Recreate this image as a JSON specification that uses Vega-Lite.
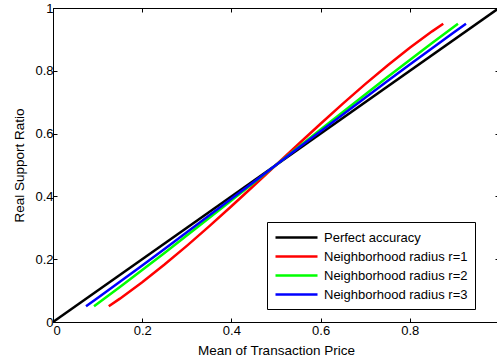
{
  "$schema": "https://vega.github.io/schema/vega-lite/v6.json",
  "autosize": {"type": "none"},
  "padding": {"left": 53, "top": 8, "right": 0, "bottom": 36},
  "width": 446,
  "height": 314,
  "background": "white",
  "config": {
    "view": {"stroke": "black", "strokeWidth": 1},
    "font": "Liberation Sans",
    "axis": {"labelFont": "Liberation Sans", "titleFont": "Liberation Sans", "labelColor": "black", "titleColor": "black", "domainColor": "black", "tickColor": "black", "grid": false, "labelFontSize": 13, "titleFontSize": 13.5, "titleFontWeight": "normal"},
    "legend": {"labelFont": "Liberation Sans"}
  },
  "data": {"values": [
    {"s": "Perfect accuracy", "x": 0, "y": 0},
    {"s": "Perfect accuracy", "x": 1, "y": 1},
    {"s": "Neighborhood radius r=1", "x": 0.125, "y": 0.05},
    {"s": "Neighborhood radius r=1", "x": 0.15, "y": 0.0744},
    {"s": "Neighborhood radius r=1", "x": 0.2, "y": 0.1268},
    {"s": "Neighborhood radius r=1", "x": 0.25, "y": 0.183},
    {"s": "Neighborhood radius r=1", "x": 0.3, "y": 0.2425},
    {"s": "Neighborhood radius r=1", "x": 0.35, "y": 0.3046},
    {"s": "Neighborhood radius r=1", "x": 0.4, "y": 0.3687},
    {"s": "Neighborhood radius r=1", "x": 0.45, "y": 0.434},
    {"s": "Neighborhood radius r=1", "x": 0.5, "y": 0.5},
    {"s": "Neighborhood radius r=1", "x": 0.55, "y": 0.566},
    {"s": "Neighborhood radius r=1", "x": 0.6, "y": 0.6313},
    {"s": "Neighborhood radius r=1", "x": 0.65, "y": 0.6954},
    {"s": "Neighborhood radius r=1", "x": 0.7, "y": 0.7575},
    {"s": "Neighborhood radius r=1", "x": 0.75, "y": 0.817},
    {"s": "Neighborhood radius r=1", "x": 0.8, "y": 0.8732},
    {"s": "Neighborhood radius r=1", "x": 0.85, "y": 0.9256},
    {"s": "Neighborhood radius r=1", "x": 0.875, "y": 0.95},
    {"s": "Neighborhood radius r=2", "x": 0.092, "y": 0.05},
    {"s": "Neighborhood radius r=2", "x": 0.15, "y": 0.1116},
    {"s": "Neighborhood radius r=2", "x": 0.2, "y": 0.1655},
    {"s": "Neighborhood radius r=2", "x": 0.25, "y": 0.2201},
    {"s": "Neighborhood radius r=2", "x": 0.3, "y": 0.2753},
    {"s": "Neighborhood radius r=2", "x": 0.35, "y": 0.3311},
    {"s": "Neighborhood radius r=2", "x": 0.4, "y": 0.3872},
    {"s": "Neighborhood radius r=2", "x": 0.45, "y": 0.4435},
    {"s": "Neighborhood radius r=2", "x": 0.5, "y": 0.5},
    {"s": "Neighborhood radius r=2", "x": 0.55, "y": 0.5565},
    {"s": "Neighborhood radius r=2", "x": 0.6, "y": 0.6128},
    {"s": "Neighborhood radius r=2", "x": 0.65, "y": 0.6689},
    {"s": "Neighborhood radius r=2", "x": 0.7, "y": 0.7247},
    {"s": "Neighborhood radius r=2", "x": 0.75, "y": 0.7799},
    {"s": "Neighborhood radius r=2", "x": 0.8, "y": 0.8345},
    {"s": "Neighborhood radius r=2", "x": 0.85, "y": 0.8884},
    {"s": "Neighborhood radius r=2", "x": 0.908, "y": 0.95},
    {"s": "Neighborhood radius r=3", "x": 0.074, "y": 0.05},
    {"s": "Neighborhood radius r=3", "x": 0.1, "y": 0.0765},
    {"s": "Neighborhood radius r=3", "x": 0.15, "y": 0.128},
    {"s": "Neighborhood radius r=3", "x": 0.2, "y": 0.18},
    {"s": "Neighborhood radius r=3", "x": 0.25, "y": 0.2326},
    {"s": "Neighborhood radius r=3", "x": 0.3, "y": 0.2856},
    {"s": "Neighborhood radius r=3", "x": 0.35, "y": 0.3389},
    {"s": "Neighborhood radius r=3", "x": 0.4, "y": 0.3924},
    {"s": "Neighborhood radius r=3", "x": 0.45, "y": 0.4462},
    {"s": "Neighborhood radius r=3", "x": 0.5, "y": 0.5},
    {"s": "Neighborhood radius r=3", "x": 0.55, "y": 0.5538},
    {"s": "Neighborhood radius r=3", "x": 0.6, "y": 0.6076},
    {"s": "Neighborhood radius r=3", "x": 0.65, "y": 0.6611},
    {"s": "Neighborhood radius r=3", "x": 0.7, "y": 0.7144},
    {"s": "Neighborhood radius r=3", "x": 0.75, "y": 0.7674},
    {"s": "Neighborhood radius r=3", "x": 0.8, "y": 0.82},
    {"s": "Neighborhood radius r=3", "x": 0.85, "y": 0.872},
    {"s": "Neighborhood radius r=3", "x": 0.9, "y": 0.9235},
    {"s": "Neighborhood radius r=3", "x": 0.926, "y": 0.95}
  ]},
  "layer": [
    {
      "mark": {"type": "line", "strokeWidth": 2.5, "clip": true},
      "encoding": {
        "x": {"field": "x", "type": "quantitative", "scale": {"domain": [0, 1], "nice": false},
              "axis": {"orient": "bottom", "title": "Mean of Transaction Price", "values": [0, 0.2, 0.4, 0.6, 0.8, 1], "format": "~g", "labelExpr": "datum.value == 1 ? '' : datum.label", "tickSize": -4, "labelPadding": 6, "titlePadding": 6, "domain": true}},
        "y": {"field": "y", "type": "quantitative", "scale": {"domain": [0, 1], "nice": false},
              "axis": {"orient": "left", "title": "Real Support Ratio", "values": [0, 0.2, 0.4, 0.6, 0.8, 1], "format": "~g", "tickSize": -4, "labelPadding": 4, "titlePadding": 8}},
        "color": {"field": "s", "type": "nominal",
                  "scale": {"domain": ["Perfect accuracy", "Neighborhood radius r=1", "Neighborhood radius r=2", "Neighborhood radius r=3"], "range": ["#000000", "#ff0000", "#00ff00", "#0000ff"]},
                  "legend": {"title": null, "orient": "none", "legendX": 214, "legendY": 214, "fillColor": "white", "strokeColor": "black", "padding": 7, "symbolType": "M-1,0H5", "symbolSize": 196, "symbolStrokeWidth": 2.5, "labelFontSize": 13, "labelColor": "black", "labelOffset": 33, "rowPadding": 3}}
      }
    },
    {
      "mark": {"type": "point", "opacity": 0},
      "encoding": {
        "x": {"field": "x", "type": "quantitative", "scale": {"domain": [0, 1], "nice": false},
              "axis": {"orient": "top", "title": null, "labels": false, "values": [0, 0.2, 0.4, 0.6, 0.8, 1], "tickSize": -4}},
        "y": {"field": "y", "type": "quantitative", "scale": {"domain": [0, 1], "nice": false},
              "axis": {"orient": "right", "title": null, "labels": false, "values": [0, 0.2, 0.4, 0.6, 0.8, 1], "tickSize": -4}}
      }
    }
  ],
  "resolve": {"axis": {"x": "independent", "y": "independent"}}
}
